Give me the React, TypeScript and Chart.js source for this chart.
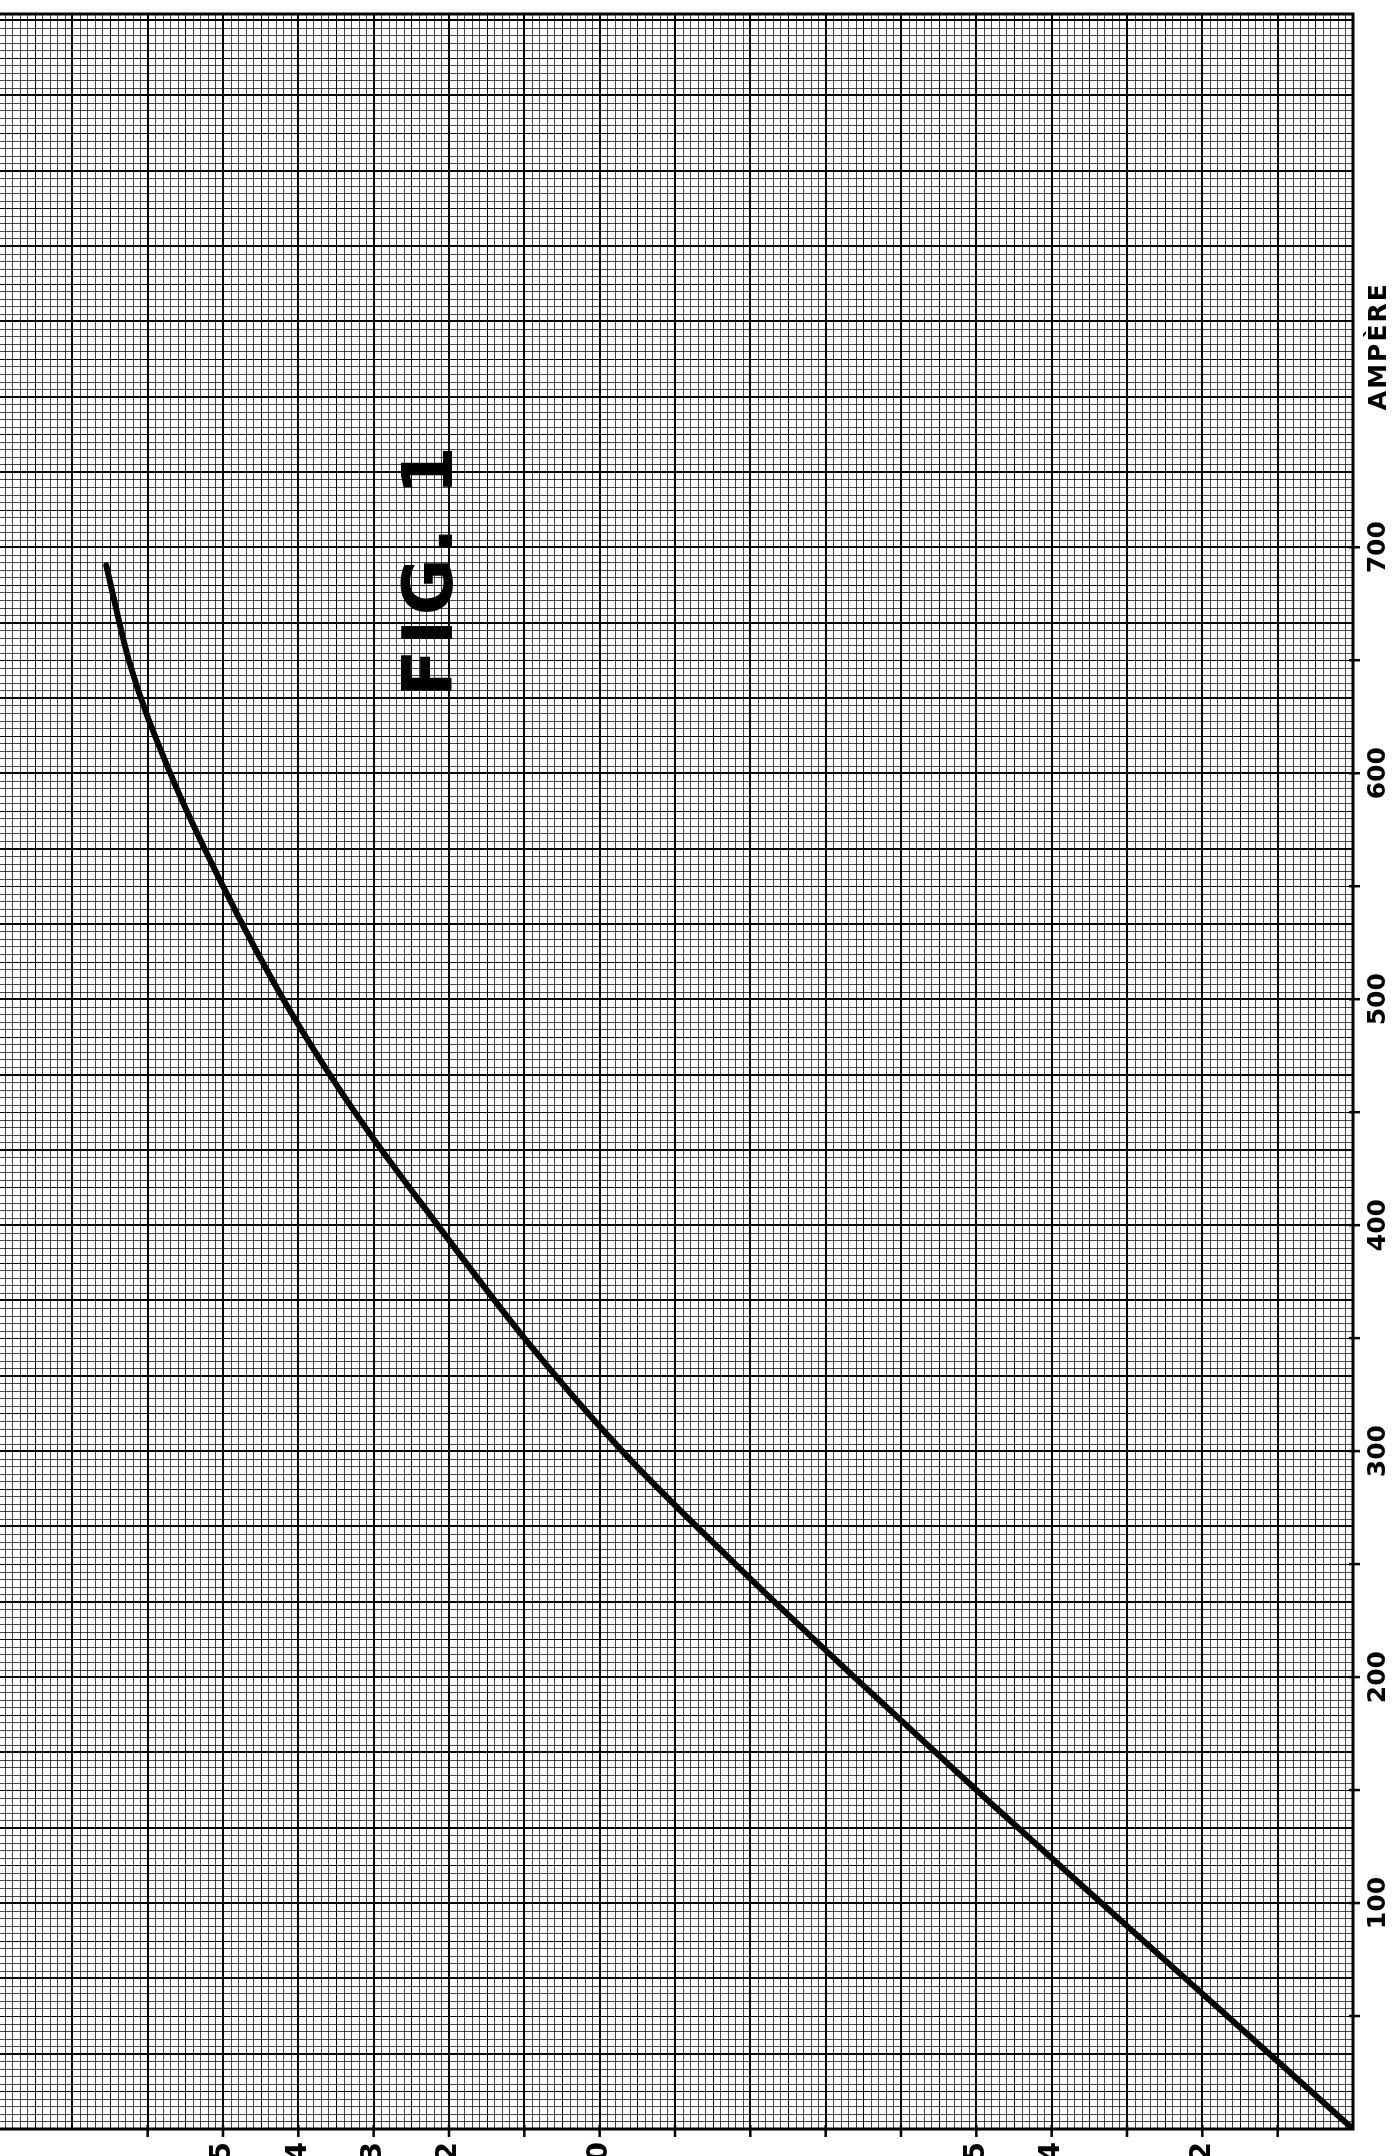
import React, { useEffect, useRef } from "react";
import { Chart, registerables } from "chart.js";
Chart.register(...registerables);

// Curve
const ampere = [0, 50, 100, 150, 200, 250, 300, 350, 400, 450, 500, 550, 600, 650, 692];
const reading = [0, 1.67, 3.34, 5.0, 6.62, 8.2, 9.7, 11.0, 12.15, 13.25, 14.2, 15.0, 15.7, 16.25, 16.55];

// Axes
const readingMin = 0;
const readingMax = 17.96;
const ampereMin = 0;
const ampereMax = 936;
const ampereTickValues = [50, 100, 150, 200, 250, 300, 350, 400, 450, 500, 550, 600, 650, 700];
const ampereLabelValues = [100, 200, 300, 400, 500, 600, 700];
const ampereLabelTexts = ["100", "200", "300", "400", "500", "600", "700"];
const ampereUnitText = "AMPÈRE";
const ampereUnitAt = 789;
const readingTickValues = [1, 2, 3, 4, 5, 6, 7, 8, 9, 10, 11, 12, 13, 14, 15, 16];
const readingLabelValues = [2, 4, 5, 10, 12, 13, 14, 15];
const readingLabelTexts = ["2", "4", "5", "10", "12", "13", "14", "15"];
const figureTitle = "FIG. 1";
const figureAt = { reading: 12.2, ampere: 690 };

function crisp(p: number, w: number) {
  return w % 2 === 1 ? Math.round(p) + 0.5 : Math.round(p);
}

const paperPlugin = {
  id: "paper",
  beforeDatasetsDraw(chart: any) {
    const { ctx, chartArea, scales } = chart;
    const { left, right, top, bottom } = chartArea;
    const xs = scales.x;
    const ys = scales.y;
    ctx.save();
    ctx.beginPath();
    ctx.rect(left, top, right - left, bottom - top);
    ctx.clip();
    const steps = Math.ceil(readingMax * 10);
    for (let i = 0; i <= steps; i++) {
      const px = xs.getPixelForValue(i / 10);
      const major = i % 10 === 0;
      const mid = i % 5 === 0;
      const w = major ? 2 : 1;
      ctx.strokeStyle = major || mid ? "#000" : "rgba(0,0,0,0.72)";
      ctx.lineWidth = w;
      const p = crisp(px, w);
      ctx.beginPath();
      ctx.moveTo(p, top);
      ctx.lineTo(p, bottom);
      ctx.stroke();
    }
    const cell = 100 / 30;
    const hsteps = Math.ceil(ampereMax / cell);
    for (let i = 0; i <= hsteps; i++) {
      const py = ys.getPixelForValue(i * cell);
      const major = i % 10 === 0;
      const mid = i % 5 === 0;
      const w = major ? 2 : 1;
      ctx.strokeStyle = major || mid ? "#000" : "rgba(0,0,0,0.72)";
      ctx.lineWidth = w;
      const p = crisp(py, w);
      ctx.beginPath();
      ctx.moveTo(left, p);
      ctx.lineTo(right, p);
      ctx.stroke();
    }
    ctx.restore();
  },
  afterDatasetsDraw(chart: any) {
    const { ctx, chartArea, scales } = chart;
    const { left, right, top, bottom } = chartArea;
    const xs = scales.x;
    const ys = scales.y;
    ctx.save();
    // border (top, right, bottom)
    ctx.strokeStyle = "#000";
    ctx.lineWidth = 3;
    ctx.beginPath();
    ctx.moveTo(left, top);
    ctx.lineTo(right, top);
    ctx.lineTo(right, bottom);
    ctx.lineTo(left, bottom);
    ctx.stroke();
    // right ticks
    ctx.lineWidth = 2.5;
    ampereTickValues.forEach((v) => {
      const py = ys.getPixelForValue(v);
      ctx.beginPath();
      ctx.moveTo(right - 4, py);
      ctx.lineTo(right + 7, py);
      ctx.stroke();
    });
    // bottom ticks
    readingTickValues.forEach((v) => {
      const px = xs.getPixelForValue(v);
      ctx.beginPath();
      ctx.moveTo(px, bottom - 4);
      ctx.lineTo(px, bottom + 8);
      ctx.stroke();
    });
    ctx.fillStyle = "#000";
    // right labels, rotated
    ctx.font = "bold 25px 'DejaVu Sans'";
    ctx.textAlign = "center";
    ctx.textBaseline = "middle";
    ampereLabelValues.forEach((v, i) => {
      const py = ys.getPixelForValue(v);
      ctx.save();
      ctx.translate(right + 25, py);
      ctx.rotate(-Math.PI / 2);
      ctx.fillText(ampereLabelTexts[i], 0, 0);
      ctx.restore();
    });
    ctx.save();
    ctx.font = "bold 25px 'DejaVu Sans'";
    ctx.translate(right + 26, ys.getPixelForValue(ampereUnitAt));
    ctx.rotate(-Math.PI / 2);
    (ctx as any).letterSpacing = "2px";
    ctx.fillText(ampereUnitText, 0, 0);
    ctx.restore();
    // bottom labels, rotated, mostly outside the picture
    ctx.font = "bold 28px 'DejaVu Sans'";
    ctx.textAlign = "right";
    readingLabelValues.forEach((v, i) => {
      const px = xs.getPixelForValue(v);
      ctx.save();
      ctx.translate(px, bottom + 13);
      ctx.rotate(-Math.PI / 2);
      ctx.fillText(readingLabelTexts[i], 0, 0);
      ctx.restore();
    });
    // figure title
    ctx.font = "bold 70px 'DejaVu Sans'";
    ctx.textAlign = "center";
    ctx.save();
    ctx.translate(xs.getPixelForValue(figureAt.reading), ys.getPixelForValue(figureAt.ampere));
    ctx.rotate(-Math.PI / 2);
    (ctx as any).letterSpacing = "4px";
    ctx.fillText(figureTitle, 0, 0);
    ctx.restore();
    ctx.restore();
  },
};

export default function App() {
  const ref = useRef<HTMLCanvasElement | null>(null);
  useEffect(() => {
    if (!ref.current) return;
    const chart = new Chart(ref.current, {
      type: "scatter",
      data: {
        datasets: [
          {
            data: ampere.map((a, i) => ({ x: reading[i], y: a })),
            showLine: true,
            borderColor: "#000",
            borderWidth: 6,
            pointRadius: 0,
            cubicInterpolationMode: "monotone",
            borderCapStyle: "round",
          } as any,
        ],
      },
      options: {
        animation: false,
        responsive: false,
        devicePixelRatio: 1,
        layout: { padding: { left: 0, top: 14, right: 46, bottom: 27 } },
        plugins: { legend: { display: false }, tooltip: { enabled: false } },
        scales: {
          x: { type: "linear", reverse: true, min: readingMin, max: readingMax, display: false },
          y: { type: "linear", min: ampereMin, max: ampereMax, display: false },
        },
      },
      plugins: [paperPlugin],
    });
    return () => chart.destroy();
  }, []);
  return (
    <div style={{ position: "absolute", left: 0, top: 0, width: 1399, height: 2156, background: "#fff", overflow: "hidden" }}>
      <canvas ref={ref} width={1399} height={2156} />
    </div>
  );
}
